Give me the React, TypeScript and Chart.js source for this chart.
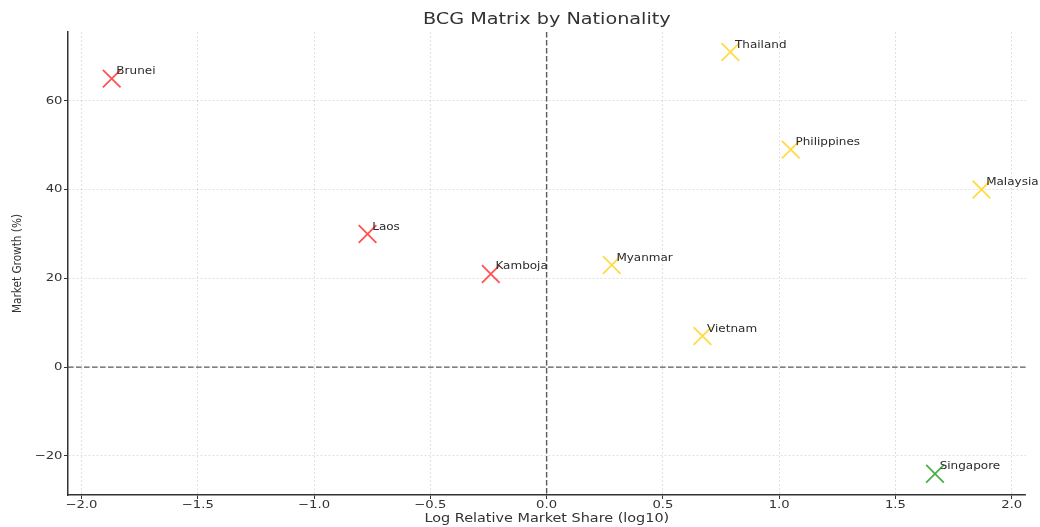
import React, { useEffect, useRef } from "react";
import { Chart, registerables } from "chart.js";

Chart.register(...registerables);

// ---- data ----
const countries = ["Brunei", "Laos", "Kamboja", "Myanmar", "Vietnam", "Thailand", "Philippines", "Malaysia", "Singapore"];
const logShare = [-1.87, -0.77, -0.24, 0.28, 0.67, 0.79, 1.05, 1.87, 1.67];
const growth = [65, 30, 21, 23, 7, 71, 49, 40, -24];
const groups = ["Question Mark", "Question Mark", "Question Mark", "Star", "Star", "Star", "Star", "Star", "Cash Cow"];
const groupColors: Record<string, string> = {
  "Question Mark": "rgba(255,0,0,0.68)",
  Star: "rgba(255,205,0,0.72)",
  "Cash Cow": "rgba(0,140,0,0.7)",
};
const xTicks = [-2, -1.5, -1, -0.5, 0, 0.5, 1, 1.5, 2];
const yTicks = [-20, 0, 20, 40, 60];
const titleText = "BCG Matrix by Nationality";
const xTitle = "Log Relative Market Share (log10)";
const yTitle = "Market Growth (%)";

const FONT = '"DejaVu Sans", "Liberation Sans", sans-serif';
const SX = 1.2; // horizontal stretch of the reference's text

function drawText(
  ctx: CanvasRenderingContext2D,
  text: string,
  x: number,
  y: number,
  size: number,
  align: CanvasTextAlign,
  baseline: CanvasTextBaseline,
  color: string,
  rotate = false
) {
  ctx.save();
  ctx.translate(x, y);
  ctx.scale(SX, 1);
  if (rotate) ctx.rotate(-Math.PI / 2);
  ctx.font = `${size}px ${FONT}`;
  ctx.fillStyle = color;
  ctx.textAlign = align;
  ctx.textBaseline = baseline;
  ctx.fillText(text, 0, 0);
  ctx.restore();
}

const minus = (s: string) => s.replace("-", "\u2212");

const overlay = {
  id: "overlay",
  beforeDatasetsDraw(chart: any) {
    const { ctx, chartArea: a } = chart;
    const xs = chart.scales.x;
    const ys = chart.scales.y;
    const x0 = xs.getPixelForValue(0);
    const y0 = ys.getPixelForValue(0);
    ctx.save();
    ctx.strokeStyle = "#5a5a5a";
    ctx.lineWidth = 1.4;
    ctx.setLineDash([5.5, 2.5]);
    ctx.beginPath();
    ctx.moveTo(x0, a.top);
    ctx.lineTo(x0, a.bottom);
    ctx.moveTo(a.left, y0);
    ctx.lineTo(a.right, y0);
    ctx.stroke();
    ctx.restore();
  },
  afterDraw(chart: any) {
    const { ctx, chartArea: a } = chart;
    const xs = chart.scales.x;
    const ys = chart.scales.y;
    const textColor = "#333";
    // title
    drawText(ctx, titleText, (a.left + a.right) / 2, 20, 16, "center", "middle", textColor);
    // x tick labels
    xTicks.forEach((v) => {
      drawText(ctx, minus(v.toFixed(1)), xs.getPixelForValue(v), 508, 11, "center", "alphabetic", textColor);
    });
    // y tick labels
    yTicks.forEach((v) => {
      drawText(ctx, minus(String(v)), a.left - 5.5, ys.getPixelForValue(v), 11, "right", "middle", textColor);
    });
    // axis titles
    drawText(ctx, xTitle, (a.left + a.right) / 2, 521.5, 12, "center", "alphabetic", textColor);
    drawText(ctx, yTitle, 18, (a.top + a.bottom) / 2, 10.5, "center", "middle", textColor, true);
    // point annotations
    countries.forEach((name, i) => {
      const px = xs.getPixelForValue(logShare[i] + 0.02);
      const py = ys.getPixelForValue(growth[i] + 1);
      drawText(ctx, name, px, py, 10, "left", "alphabetic", "#2a2a2a");
    });
  },
};

export default function App() {
  const canvasRef = useRef<HTMLCanvasElement | null>(null);

  useEffect(() => {
    if (!canvasRef.current) return;
    const colors = groups.map((g) => groupColors[g]);
    const chart = new Chart(canvasRef.current, {
      type: "scatter",
      data: {
        datasets: [
          {
            label: "Nationality",
            data: logShare.map((x, i) => ({ x, y: growth[i] })),
            pointStyle: "crossRot",
            pointRadius: 12.5,
            pointHoverRadius: 12.5,
            pointBorderWidth: 1.8,
            pointBorderColor: colors,
            pointBackgroundColor: colors,
          },
        ],
      },
      options: {
        responsive: false,
        animation: false,
        events: [],
        layout: { padding: { left: 0, right: 13, top: 32, bottom: 0 } },
        plugins: {
          legend: { display: false },
          title: { display: false },
          tooltip: { enabled: false },
        },
        scales: {
          x: {
            type: "linear",
            min: -2.058,
            max: 2.06,
            afterBuildTicks: (axis: any) => {
              axis.ticks = xTicks.map((v) => ({ value: v }));
            },
            afterFit: (axis: any) => {
              axis.height = 32;
            },
            ticks: { display: false },
            grid: {
              color: "rgba(0,0,0,0.15)",
              lineWidth: 0.8,
              tickLength: 4,
              tickColor: "#333",
              tickWidth: 1,
            },
            border: { display: true, color: "#333", width: 1.5, dash: [2, 2] },
          },
          y: {
            type: "linear",
            min: -28.8,
            max: 75.5,
            afterBuildTicks: (axis: any) => {
              axis.ticks = yTicks.map((v) => ({ value: v }));
            },
            afterFit: (axis: any) => {
              axis.width = 68;
            },
            ticks: { display: false },
            grid: {
              color: "rgba(0,0,0,0.15)",
              lineWidth: 0.8,
              tickLength: 4,
              tickColor: "#333",
              tickWidth: 1,
            },
            border: { display: true, color: "#333", width: 1.5, dash: [2, 2] },
          },
        },
      },
      plugins: [overlay],
    } as any);
    return () => chart.destroy();
  }, []);

  return (
    <div style={{ position: "absolute", left: 0, top: 0, width: 1040, height: 527, background: "#fff" }}>
      <canvas ref={canvasRef} width={1040} height={527} />
    </div>
  );
}
